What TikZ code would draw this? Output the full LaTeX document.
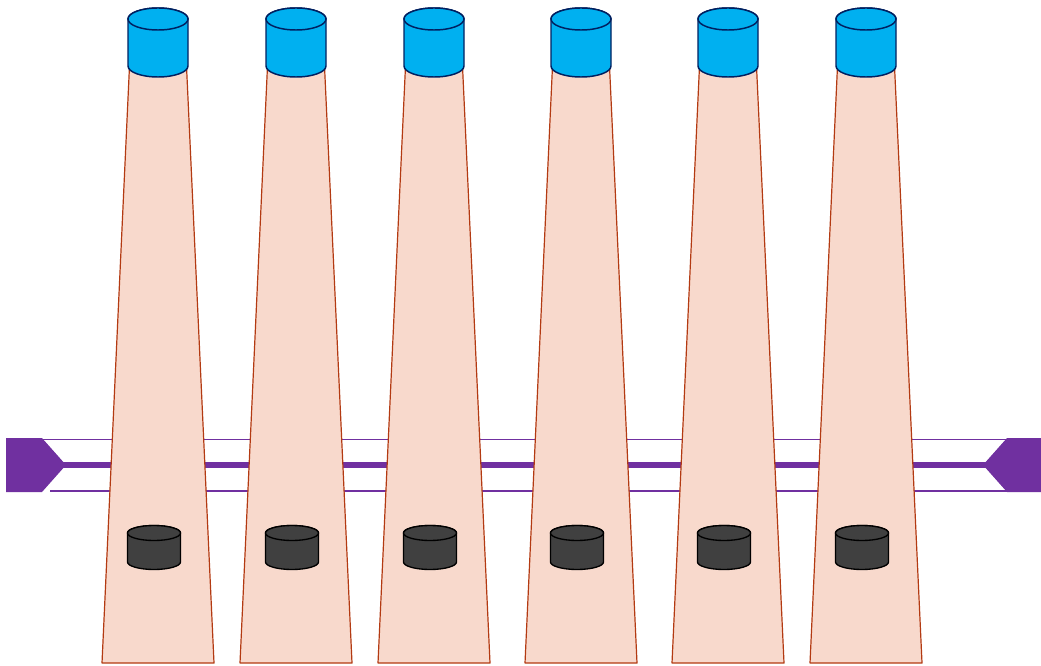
\documentclass[tikz,border=0pt]{standalone}
\definecolor{cylblue}{HTML}{00B0F0}
\definecolor{cylnavy}{HTML}{002060}
\definecolor{peach}{HTML}{F8D9CC}
\definecolor{rust}{HTML}{B33A12}
\definecolor{purp}{HTML}{7030A0}
\definecolor{darkcyl}{HTML}{404040}
\begin{document}
\begin{tikzpicture}[x=0.75pt,y=-0.75pt,
  thinrail/.style={draw=purp,line width=0.9pt},
  thickrail/.style={draw=purp,line width=5pt},
  endcap/.style={fill=purp},
  trapstyle/.style={fill=peach,draw=rust,line width=0.9pt,line join=round},
  topcyl/.style={fill=cylblue,draw=cylnavy,line width=1.1pt},
  botcyl/.style={fill=darkcyl,draw=black,line width=1pt}]
\useasboundingbox (0,0) rectangle (1041,666);
% rails
\draw[thinrail] (43,439.5) -- (1007,439.5);
\draw[thinrail] (50,491) -- (1007,491);
\draw[thickrail] (60,465) -- (988,465);
\fill[endcap] (6,438) -- (42,438) -- (66,465) -- (42,492) -- (6,492) -- cycle;
\fill[endcap] (1041,438) -- (1007,438) -- (983,465) -- (1007,492) -- (1041,492) -- cycle;
% columns
\foreach \c in {158,296,434,581,728,866}{
  \draw[trapstyle] (\c-28.5,66) -- (\c+28.5,66) -- (\c+56,663) -- (\c-56,663) -- cycle;
  \draw[topcyl] (\c-30,19) -- (\c-30,66)
     arc[start angle=180,end angle=0,x radius=30,y radius=11]
     -- (\c+30,19)
     arc[start angle=0,end angle=-180,x radius=30,y radius=11] -- cycle;
  \draw[topcyl] (\c,19) ellipse[x radius=30,y radius=11];
  \draw[botcyl] (\c-30.5,533) -- (\c-30.5,562)
     arc[start angle=180,end angle=0,x radius=26.5,y radius=7.5]
     -- (\c+22.5,533)
     arc[start angle=0,end angle=-180,x radius=26.5,y radius=7.5] -- cycle;
  \draw[botcyl] (\c-4,533) ellipse[x radius=26.5,y radius=7.5];
}
\end{tikzpicture}
\end{document}
